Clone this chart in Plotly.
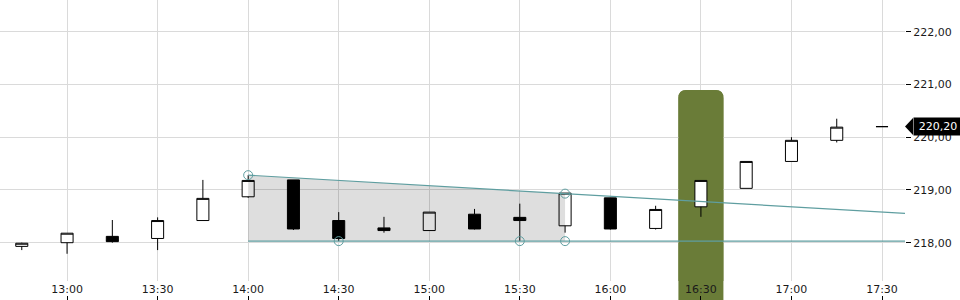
import plotly.graph_objects as go
import pandas as pd

# ---- data ----
times = ["2024-03-15 12:45", "2024-03-15 13:00", "2024-03-15 13:15", "2024-03-15 13:30",
         "2024-03-15 13:45", "2024-03-15 14:00", "2024-03-15 14:15", "2024-03-15 14:30",
         "2024-03-15 14:45", "2024-03-15 15:00", "2024-03-15 15:15", "2024-03-15 15:30",
         "2024-03-15 15:45", "2024-03-15 16:00", "2024-03-15 16:15", "2024-03-15 16:30",
         "2024-03-15 16:45", "2024-03-15 17:00", "2024-03-15 17:15", "2024-03-15 17:30"]
open_ = [217.93, 218.00, 218.12, 218.08, 218.42, 218.87, 219.19, 218.42, 218.28, 218.23,
         218.54, 218.48, 218.32, 218.85, 218.27, 218.68, 219.03, 219.54, 219.94, 220.20]
high = [218.00, 218.18, 218.43, 218.48, 219.19, 219.28, 219.19, 218.58, 218.49, 218.58,
        218.64, 218.74, 218.94, 218.85, 218.70, 219.18, 219.54, 220.00, 220.35, 220.20]
low = [217.86, 217.79, 218.00, 217.86, 218.42, 218.85, 218.24, 218.03, 218.19, 218.23,
       218.25, 218.03, 218.19, 218.25, 218.25, 218.49, 219.03, 219.54, 219.90, 220.20]
close = [217.99, 218.18, 218.02, 218.42, 218.84, 219.18, 218.26, 218.08, 218.23, 218.58,
         218.26, 218.42, 218.94, 218.26, 218.63, 219.18, 219.54, 219.94, 220.19, 220.20]

# triangle pattern (upper trend line anchors, support level)
trend_times = ["2024-03-15 14:00", "2024-03-15 15:45"]
trend_prices = [219.28, 218.93]
support_price = 218.03
pivot_times = ["2024-03-15 14:00", "2024-03-15 14:30", "2024-03-15 15:30",
               "2024-03-15 15:45", "2024-03-15 15:45"]
pivot_prices = [219.28, 218.03, 218.03, 218.03, 218.93]

highlight_time = "2024-03-15 16:30"
last_price = 220.20
last_price_label = "220,20"

x_range = ["2024-03-15 12:37:47", "2024-03-15 17:37:37"]
y_range = [217.274, 222.60]

x_tick_vals = ["2024-03-15 13:00", "2024-03-15 13:30", "2024-03-15 14:00", "2024-03-15 14:30",
               "2024-03-15 15:00", "2024-03-15 15:30", "2024-03-15 16:00", "2024-03-15 16:30",
               "2024-03-15 17:00", "2024-03-15 17:30"]
x_tick_text = ["13:00", "13:30", "14:00", "14:30", "15:00", "15:30", "16:00", "16:30",
               "17:00", "17:30"]
y_tick_vals = [218, 219, 220, 221, 222]
y_tick_text = ["218,00", "219,00", "220,00", "221,00", "222,00"]

# ---- derived trend line extension ----
t0 = pd.Timestamp(trend_times[0])
t1 = pd.Timestamp(trend_times[1])
slope = (trend_prices[1] - trend_prices[0]) / (t1 - t0).total_seconds()
t_end = pd.Timestamp(x_range[1]) + pd.Timedelta(minutes=5)
trend_end_price = trend_prices[0] + slope * (t_end - t0).total_seconds()

TEAL = "#5f9ea0"
GRID = "#dadada"
GREEN = "#6a7c38"
FONT = dict(family="DejaVu Sans", size=11, color="#1a1a1a")

fig = go.Figure()

# shaded triangle area
fig.add_trace(go.Scatter(
    x=[trend_times[0], trend_times[1], trend_times[1], trend_times[0], trend_times[0]],
    y=[trend_prices[0], trend_prices[1], support_price, support_price, trend_prices[0]],
    fill="toself", fillcolor="rgba(0,0,0,0.13)", line=dict(width=0),
    mode="lines", hoverinfo="skip", showlegend=False))

# trend line & support line
fig.add_trace(go.Scatter(
    x=[trend_times[0], t_end], y=[trend_prices[0], trend_end_price],
    mode="lines", line=dict(color=TEAL, width=1.2), showlegend=False, hoverinfo="skip"))
fig.add_trace(go.Scatter(
    x=[trend_times[0], t_end], y=[support_price, support_price],
    mode="lines", line=dict(color=TEAL, width=1.2), showlegend=False, hoverinfo="skip"))

# candles
fig.add_trace(go.Candlestick(
    x=times, open=open_, high=high, low=low, close=close,
    increasing=dict(line=dict(color="black", width=1), fillcolor="white"),
    decreasing=dict(line=dict(color="black", width=1), fillcolor="black"),
    whiskerwidth=0, showlegend=False))

# pivot markers
fig.add_trace(go.Scatter(
    x=pivot_times, y=pivot_prices, mode="markers",
    marker=dict(symbol="circle-open", size=9, color=TEAL, line=dict(width=1)),
    showlegend=False, hoverinfo="skip"))

# helper trace for bottom tick-mark axis
fig.add_trace(go.Scatter(x=[times[0]], y=[None], xaxis="x2", yaxis="y",
                         mode="markers", showlegend=False, hoverinfo="skip"))

# highlight bar with rounded top: part below plot area (paper) + part inside (over grid)
bar_path = "M -22.5,0 L -22.5,202 Q -22.5,210 -14.5,210 L 14.5,210 Q 22.5,210 22.5,202 L 22.5,0 Z"
fig.add_shape(type="path", xref="x", yref="paper", xsizemode="pixel", ysizemode="pixel",
              xanchor=highlight_time, yanchor=0, path=bar_path,
              fillcolor=GREEN, line=dict(width=0), layer="below")
fig.add_shape(type="path", xref="x", yref="y", xsizemode="pixel", ysizemode="pixel",
              xanchor=highlight_time, yanchor=y_range[0],
              path="M -22.5,-2 L -22.5,183 Q -22.5,191 -14.5,191 L 14.5,191 Q 22.5,191 22.5,183 L 22.5,-2 Z",
              fillcolor=GREEN, line=dict(width=0), layer="between")

# last price arrow
fig.add_shape(type="path", xref="paper", yref="y", xsizemode="pixel", ysizemode="pixel",
              xanchor=1, yanchor=last_price,
              path="M 0,0 L 8,8.5 L 8,-8.5 Z", fillcolor="black", line=dict(width=0),
              layer="above")
fig.add_annotation(xref="paper", yref="y", x=1, y=last_price, xanchor="left", yanchor="middle",
                   xshift=8, text=last_price_label, showarrow=False, bgcolor="black",
                   font=dict(family="DejaVu Sans", size=11, color="white"),
                   borderpad=2, width=44, height=13)

fig.update_layout(
    width=960, height=300,
    margin=dict(l=0, r=55, t=0, b=0),
    paper_bgcolor="white", plot_bgcolor="white",
    font=FONT,
    boxgap=0.62,
    xaxis=dict(type="date", range=x_range, tickvals=x_tick_vals, ticktext=x_tick_text,
               showgrid=True, gridcolor=GRID, gridwidth=1, ticks="", showline=False,
               zeroline=False, rangeslider=dict(visible=False), tickfont=FONT),
    xaxis2=dict(type="date", range=x_range, overlaying="x", anchor="free", position=0,
                side="bottom", tickvals=x_tick_vals, ticks="inside", ticklen=4,
                tickcolor="black", tickwidth=1, showticklabels=False, showgrid=False,
                showline=False, zeroline=False),
    yaxis=dict(range=y_range, domain=[19 / 300, 1], side="right", tickvals=y_tick_vals,
               ticktext=y_tick_text, showgrid=True, gridcolor=GRID, gridwidth=1,
               ticks="outside", ticklen=5, tickcolor="black", tickwidth=1,
               showline=False, zeroline=False, tickfont=FONT),
)

fig.write_html("out.html")
